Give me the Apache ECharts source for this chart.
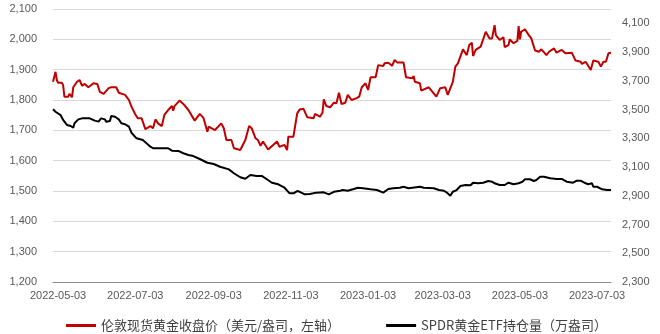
<!DOCTYPE html>
<html>
<head>
<meta charset="utf-8">
<script src="https://cdn.jsdelivr.net/npm/echarts@6/dist/echarts.min.js"></script>
<style>
html,body{margin:0;padding:0;background:#fff;}
#chart{width:660px;height:334px;}
</style>
</head>
<body>
<div id="chart"></div>
<script>
// Tick labels shown on the date axis
var xTickLabels = ['2022-05-03','2022-07-03','2022-09-03','2022-11-03','2023-01-03','2023-03-03','2023-05-03','2023-07-03'];
var xMin = '2022-04-29';
var xMax = '2023-07-14';

// London spot gold close (USD/oz, left axis)
var goldDates = ['2022-04-29','2022-05-01','2022-05-02','2022-05-03','2022-05-06','2022-05-07','2022-05-08','2022-05-11','2022-05-12','2022-05-14','2022-05-15','2022-05-18','2022-05-20','2022-05-22','2022-05-24','2022-05-27','2022-05-31','2022-06-03','2022-06-05','2022-06-08','2022-06-12','2022-06-14','2022-06-18','2022-06-20','2022-06-25','2022-06-28','2022-06-30','2022-07-03','2022-07-05','2022-07-08','2022-07-11','2022-07-15','2022-07-17','2022-07-19','2022-07-21','2022-07-24','2022-07-26','2022-07-29','2022-08-01','2022-08-02','2022-08-03','2022-08-07','2022-08-10','2022-08-14','2022-08-19','2022-08-23','2022-08-26','2022-08-29','2022-08-30','2022-09-04','2022-09-09','2022-09-11','2022-09-13','2022-09-17','2022-09-19','2022-09-24','2022-09-28','2022-10-01','2022-10-03','2022-10-06','2022-10-08','2022-10-10','2022-10-12','2022-10-16','2022-10-20','2022-10-23','2022-10-25','2022-10-29','2022-10-31','2022-11-01','2022-11-05','2022-11-08','2022-11-10','2022-11-13','2022-11-16','2022-11-21','2022-11-22','2022-11-26','2022-11-28','2022-11-29','2022-12-01','2022-12-04','2022-12-07','2022-12-09','2022-12-11','2022-12-13','2022-12-16','2022-12-18','2022-12-21','2022-12-25','2022-12-27','2022-12-29','2023-01-01','2023-01-03','2023-01-05','2023-01-09','2023-01-11','2023-01-15','2023-01-16','2023-01-19','2023-01-22','2023-01-24','2023-01-26','2023-01-31','2023-02-02','2023-02-07','2023-02-08','2023-02-09','2023-02-13','2023-02-14','2023-02-20','2023-02-26','2023-03-01','2023-03-05','2023-03-07','2023-03-11','2023-03-13','2023-03-15','2023-03-19','2023-03-22','2023-03-24','2023-03-26','2023-03-27','2023-03-29','2023-04-02','2023-04-06','2023-04-09','2023-04-11','2023-04-13','2023-04-14','2023-04-17','2023-04-20','2023-04-21','2023-04-24','2023-04-25','2023-04-28','2023-05-01','2023-05-02','2023-05-03','2023-05-04','2023-05-07','2023-05-08','2023-05-10','2023-05-12','2023-05-15','2023-05-18','2023-05-20','2023-05-24','2023-05-26','2023-05-30','2023-06-01','2023-06-05','2023-06-08','2023-06-13','2023-06-16','2023-06-20','2023-06-21','2023-06-24','2023-06-28','2023-06-30','2023-07-04','2023-07-06','2023-07-08','2023-07-10','2023-07-12','2023-07-14'];
var goldValues = [1860,1893,1866,1857,1857,1849,1811,1811,1820,1809,1842,1860,1866,1847,1853,1842,1855,1853,1827,1820,1839,1842,1842,1824,1817,1800,1778,1753,1740,1740,1704,1714,1707,1736,1723,1714,1751,1767,1780,1765,1780,1798,1787,1767,1732,1754,1740,1695,1712,1701,1723,1707,1668,1668,1641,1635,1668,1714,1707,1674,1668,1649,1663,1637,1652,1663,1646,1652,1635,1679,1679,1756,1769,1771,1743,1740,1754,1745,1758,1802,1780,1776,1791,1789,1824,1787,1791,1817,1800,1806,1811,1842,1855,1833,1875,1875,1915,1912,1921,1923,1913,1932,1924,1924,1875,1872,1879,1860,1855,1831,1842,1811,1839,1842,1817,1860,1910,1921,1967,1948,1981,1989,1945,1965,1976,2025,2003,2003,2047,2014,1998,2007,1974,1981,2000,1987,1995,2044,2000,2025,2033,2033,2014,2003,1963,1959,1967,1948,1959,1970,1956,1965,1954,1956,1930,1926,1919,1926,1899,1930,1926,1910,1926,1926,1954,1956];

// SPDR gold ETF holdings (10k oz, right axis)
var etfDates = ['2022-04-29','2022-05-01','2022-05-05','2022-05-07','2022-05-10','2022-05-13','2022-05-15','2022-05-16','2022-05-19','2022-05-22','2022-05-28','2022-06-01','2022-06-04','2022-06-06','2022-06-09','2022-06-10','2022-06-13','2022-06-14','2022-06-17','2022-06-20','2022-06-22','2022-06-25','2022-06-28','2022-06-30','2022-07-04','2022-07-09','2022-07-15','2022-07-17','2022-07-29','2022-08-01','2022-08-06','2022-08-10','2022-08-14','2022-08-15','2022-08-17','2022-08-23','2022-08-29','2022-09-03','2022-09-08','2022-09-15','2022-09-19','2022-09-24','2022-09-28','2022-10-02','2022-10-07','2022-10-11','2022-10-15','2022-10-19','2022-10-24','2022-10-29','2022-11-02','2022-11-05','2022-11-08','2022-11-10','2022-11-14','2022-11-18','2022-11-23','2022-11-29','2022-12-03','2022-12-07','2022-12-12','2022-12-14','2022-12-18','2022-12-22','2022-12-26','2022-12-30','2023-01-05','2023-01-10','2023-01-15','2023-01-19','2023-01-23','2023-01-28','2023-01-31','2023-02-04','2023-02-05','2023-02-13','2023-02-16','2023-02-24','2023-02-28','2023-03-04','2023-03-06','2023-03-09','2023-03-11','2023-03-14','2023-03-17','2023-03-21','2023-03-25','2023-03-27','2023-03-31','2023-04-04','2023-04-08','2023-04-11','2023-04-13','2023-04-17','2023-04-21','2023-04-24','2023-04-28','2023-05-02','2023-05-05','2023-05-07','2023-05-11','2023-05-14','2023-05-16','2023-05-19','2023-05-22','2023-05-27','2023-06-01','2023-06-05','2023-06-09','2023-06-14','2023-06-17','2023-06-20','2023-06-24','2023-06-26','2023-06-29','2023-06-30','2023-07-03','2023-07-07','2023-07-11','2023-07-14'];
var etfValues = [3502,3485,3462,3428,3393,3386,3374,3405,3432,3439,3439,3423,3416,3439,3432,3416,3421,3455,3450,3432,3405,3398,3381,3339,3300,3288,3242,3231,3231,3214,3212,3196,3184,3172,3179,3156,3130,3121,3102,3084,3057,3029,3019,3045,3038,3038,3015,2991,2980,2956,2917,2917,2933,2928,2910,2912,2922,2924,2910,2928,2935,2940,2935,2945,2956,2952,2945,2940,2922,2947,2952,2956,2963,2952,2963,2963,2956,2952,2940,2935,2924,2901,2928,2940,2968,2975,2973,2991,2987,2991,3003,2998,2987,2975,2975,2991,2980,2987,2998,3015,3015,3003,3010,3033,3033,3022,3017,3017,2998,2991,3005,3005,2987,2980,2987,2963,2963,2945,2940,2940];

var goldName = '伦敦现货黄金收盘价（美元/盎司，左轴）';
var etfName = 'SPDR黄金ETF持仓量（万盎司）';

function toTs(s){ var p = s.split('-'); return new Date(+p[0], +p[1]-1, +p[2]).getTime(); }
function pad(n){ return (n < 10 ? '0' : '') + n; }
function fmtDate(v){ var d = new Date(v); return d.getFullYear() + '-' + pad(d.getMonth()+1) + '-' + pad(d.getDate()); }
function fmtNum(v){ return String(v).replace(/\B(?=(\d{3})+(?!\d))/g, ','); }

var labelFont = 'Liberation Sans, Arial, sans-serif';
var chart = echarts.init(document.getElementById('chart'), null, {renderer:'canvas'});
chart.setOption({
  animation: false,
  backgroundColor: '#ffffff',
  grid: {left: 53, right: 49, top: 9, bottom: 52, containLabel: false},
  legend: {
    left: 61, top: 314,
    itemWidth: 30, itemHeight: 3, itemGap: 46,
    icon: 'rect',
    textStyle: {fontSize: 13, color: '#404040', fontFamily: 'Noto Sans CJK SC, sans-serif'},
    data: [{name: goldName}, {name: etfName}]
  },
  xAxis: {
    type: 'value',
    min: toTs(xMin), max: toTs(xMax),
    axisLine: {show: true, lineStyle: {color: '#8c8c8c', width: 1}},
    axisTick: {show: false},
    splitLine: {show: false},
    axisLabel: {
      customValues: xTickLabels.map(toTs),
      formatter: function(v){ return fmtDate(v); },
      color: '#595959', fontSize: 11, fontFamily: labelFont, margin: 8
    }
  },
  yAxis: [{
    type: 'value', min: 1200, max: 2100, interval: 100,
    axisLine: {show: false}, axisTick: {show: false},
    splitLine: {show: true, lineStyle: {color: '#d9d9d9', width: 1}},
    axisLabel: {formatter: function(v){ return fmtNum(v); }, color: '#595959', fontSize: 11, fontFamily: labelFont, margin: 16}
  }, {
    type: 'value', min: 2300, max: 4200, interval: 100,
    axisLine: {show: false}, axisTick: {show: false},
    splitLine: {show: false},
    axisLabel: {
      formatter: function(v){ return ((v - 2300) % 200 === 0 && v <= 4100) ? fmtNum(v) : ''; },
      color: '#595959', fontSize: 11, fontFamily: labelFont, margin: 11
    }
  }],
  series: [{
    name: etfName, type: 'line', yAxisIndex: 1, showSymbol: false, symbol: 'none',
    color: '#000000',
    lineStyle: {color: '#000000', width: 2},
    data: etfDates.map(function(d, i){ return [toTs(d), etfValues[i]]; })
  }, {
    name: goldName, type: 'line', yAxisIndex: 0, showSymbol: false, symbol: 'none',
    color: '#c00000',
    lineStyle: {color: '#c00000', width: 2},
    data: goldDates.map(function(d, i){ return [toTs(d), goldValues[i]]; })
  }]
});
</script>
</body>
</html>
